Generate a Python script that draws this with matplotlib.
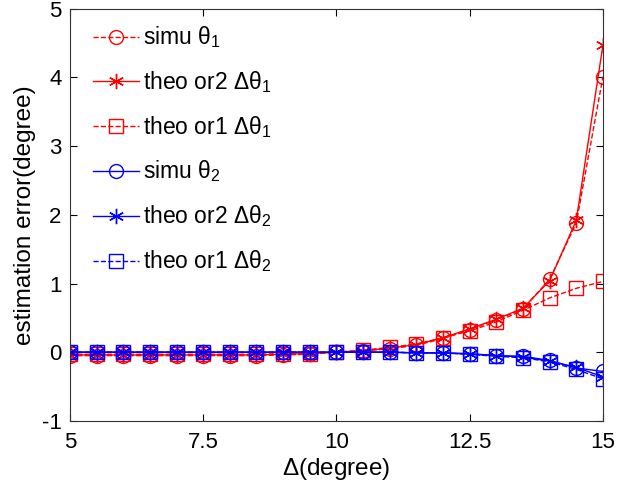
# plot of estimation error vs separation
from matplotlib import pyplot as plt

delta = [5, 5.5, 6, 6.5, 7, 7.5, 8, 8.5, 9, 9.5, 10,
         10.5, 11, 11.5, 12, 12.5, 13, 13.5, 14, 14.5, 15]

simu_t1 = [-0.05, -0.05, -0.05, -0.05, -0.05, -0.05, -0.05, -0.05, -0.04, -0.03, 0.0,
           0.02, 0.05, 0.1, 0.2, 0.33, 0.47, 0.63, 1.06, 1.88, 4.01]
theo2_t1 = [-0.04, -0.04, -0.04, -0.04, -0.04, -0.04, -0.04, -0.04, -0.03, -0.02, 0.0,
            0.02, 0.06, 0.11, 0.21, 0.34, 0.48, 0.64, 1.04, 1.92, 4.47]
theo1_t1 = [-0.03, -0.03, -0.03, -0.03, -0.03, -0.03, -0.03, -0.03, -0.02, -0.02, 0.0,
            0.03, 0.07, 0.12, 0.21, 0.31, 0.44, 0.61, 0.79, 0.93, 1.03]
simu_t2 = [0.0, 0.0, 0.0, 0.0, 0.0, 0.0, 0.0, 0.0, 0.0, 0.0, 0.0,
           0.0, 0.0, -0.01, -0.01, -0.02, -0.05, -0.06, -0.12, -0.23, -0.28]
theo2_t2 = [0.0, 0.0, 0.0, 0.0, 0.0, 0.0, 0.0, 0.0, 0.0, 0.0, 0.0,
            0.0, 0.0, -0.01, -0.01, -0.03, -0.05, -0.07, -0.13, -0.22, -0.36]
theo1_t2 = [0.0, 0.0, 0.0, 0.0, 0.0, 0.0, 0.0, 0.0, 0.0, 0.0, 0.0,
            0.0, 0.0, -0.01, -0.01, -0.03, -0.06, -0.08, -0.14, -0.25, -0.39]

plt.rcParams['font.family'] = ['Liberation Sans', 'DejaVu Sans']
plt.rcParams['mathtext.fontset'] = 'custom'
plt.rcParams['mathtext.rm'] = 'Liberation Sans'
plt.rcParams['mathtext.it'] = 'Liberation Serif'
plt.rcParams['axes.unicode_minus'] = False

fig = plt.figure(figsize=(6.36, 4.86), dpi=100, facecolor='white')
ax = fig.add_axes([0.110, 0.134, 0.838, 0.848])

ms = 10
star = (6, 2, 0)
ax.plot(delta, simu_t1, 'r--', marker='o', mfc='none', ms=ms, lw=1, label=r'simu $\mathrm{\theta}_1$')
ax.plot(delta, theo2_t1, 'r-', marker=star, ms=ms + 1, lw=1, label=r'theo or2 $\Delta\mathrm{\theta}_1$')
ax.plot(delta, theo1_t1, 'r--', marker='s', mfc='none', ms=ms, lw=1, label=r'theo or1 $\Delta\mathrm{\theta}_1$')
ax.plot(delta, simu_t2, 'b-', marker='o', mfc='none', ms=ms, lw=1, label=r'simu $\mathrm{\theta}_2$')
ax.plot(delta, theo2_t2, 'b-', marker=star, ms=ms + 1, lw=1, label=r'theo or2 $\Delta\mathrm{\theta}_2$')
ax.plot(delta, theo1_t2, 'b--', marker='s', mfc='none', ms=ms, lw=1, label=r'theo or1 $\Delta\mathrm{\theta}_2$')

ax.set_xlim(5, 15)
ax.set_ylim(-1, 5)
ax.set_xticks([5, 7.5, 10, 12.5, 15])
ax.set_xticklabels(['5', '7.5', '10', '12.5', '15'])
ax.set_yticks([-1, 0, 1, 2, 3, 4, 5])
ax.tick_params(direction='in', top=True, right=True, labelsize=16, length=5, pad=6)
ax.tick_params(axis='x', pad=8)
ax.set_xlabel(r'$\Delta$(degree)', fontsize=17.5, labelpad=2)
ax.set_ylabel('estimation error(degree)', fontsize=17.5)
ax.yaxis.set_label_coords(-0.063, 0.5)
for s in ax.spines.values():
        s.set_color('#333333')

ax.legend(loc='upper left', bbox_to_anchor=(0, 1.017), frameon=False, fontsize=16.5,
          handlelength=2.0, handletextpad=0.2, labelspacing=0.85, borderaxespad=0.6)

plt.savefig('out.png', dpi=100)
